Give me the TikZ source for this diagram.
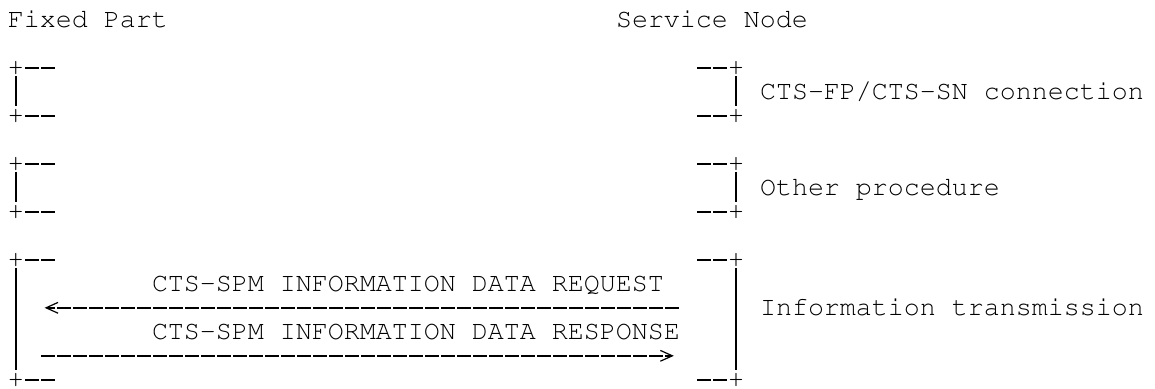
\documentclass[tikz,border=0pt]{standalone}
\usepackage[T1]{fontenc}
\renewcommand{\ttdefault}{pcr}
\usetikzlibrary{calc,arrows.meta}

\begin{document}
\begin{tikzpicture}[x=8pt,y=12pt,
mono/.style={font=\fontsize{13.33pt}{12pt}\selectfont\ttfamily,anchor=base west,inner sep=0pt,outer sep=0pt},
bar/.style={line width=0.65pt},
rule/.style={line width=1pt,dash pattern=on 7pt off 1pt,dash phase=7.5pt},
msg/.style={rule,-{Straight Barb[length=6pt,width=5.4pt,line width=0.6pt,sep=1.5pt]}}]

\useasboundingbox (-0.5,1.125) rectangle (71.6875,-15.0417);

% heads
\node[mono] (fp) at (0,0) {Fixed Part};
\node[mono] (sn) at (38,0) {Service Node};

% corners, fixed part side
\node[mono] (fpA) at (0,-2) {+};
\node[mono] (fpa) at (0,-4) {+};
\node[mono] (fpB) at (0,-6) {+};
\node[mono] (fpb) at (0,-8) {+};
\node[mono] (fpC) at (0,-10) {+};
\node[mono] (fpc) at (0,-15) {+};

% corners, service node side
\node[mono] (snA) at (45,-2) {+};
\node[mono] (sna) at (45,-4) {+};
\node[mono] (snB) at (45,-6) {+};
\node[mono] (snb) at (45,-8) {+};
\node[mono] (snC) at (45,-10) {+};
\node[mono] (snc) at (45,-15) {+};

% brackets
\foreach \n in {fpA,fpa,fpB,fpb,fpC,fpc}
  \draw[rule] ($(\n.base west)+(1,0.3)$) -- ++(2,0);
\foreach \n in {snA,sna,snB,snb,snC,snc}
  \draw[rule] ($(\n.base west)+(-2,0.3)$) -- ++(2,0);
\foreach \t/\b in {fpA/fpa,fpB/fpb,fpC/fpc,snA/sna,snB/snb,snC/snc}
  \draw[bar] ($(\t.base west)+(0.5,-0.04)$) -- ($(\b.base west)+(0.5,0.7)$);

% procedure labels
\node[mono] (conn) at (47,-3) {CTS-FP/CTS-SN connection};
\node[mono] (other) at (47,-7) {Other procedure};
\node[mono] (info) at (47,-12) {Information transmission};

% messages
\node[mono] (req) at (9,-11) {CTS-SPM INFORMATION DATA REQUEST};
\node[mono] (rsp) at (9,-13) {CTS-SPM INFORMATION DATA RESPONSE};
\coordinate (reqR) at (42,-11.7);
\coordinate (reqL) at (2.1,-11.7);
\coordinate (rspL) at (2,-13.7);
\coordinate (rspR) at (41.8,-13.7);

% edges
\draw[msg] (reqR) -- (reqL);
\draw[msg] (rspL) -- (rspR);
\end{tikzpicture}
\end{document}
